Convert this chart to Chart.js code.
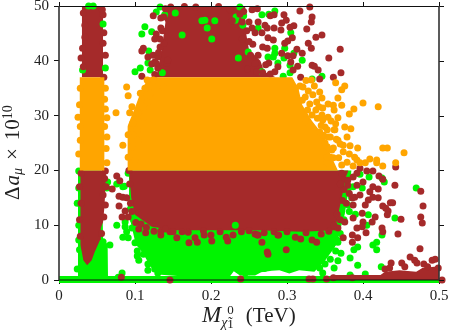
<!DOCTYPE html>
<html>
<head>
<meta charset="utf-8">
<script src="https://cdn.jsdelivr.net/npm/chart.js@4"></script>
<style>
html, body { margin: 0; padding: 0; background: #fff; }
canvas { display: block; }
</style>
</head>
<body>
<canvas id="scan" width="449" height="334"></canvas>
<script>
const xTickLabels = ['0', '0.1', '0.2', '0.3', '0.4', '0.5'];
const yTickLabels = ['0', '10', '20', '30', '40', '50'];

// dense parts of the clouds, read as outlines [x, y]
const greenFloor = [[0, 0.1], [0.5, 0.1]];
const greenStrip = [[0.025, 0], [0.025, 20], [0.056, 20], [0.058, 7.5], [0.064, 6.5], [0.0645, 0]];
const greenCloud = [[0.092, 12], [0.101, 6.5], [0.11, 5], [0.12, 2.5], [0.13, 1], [0.16, 0.7], [0.225, 0.7], [0.23, 1.6], [0.238, 0.8],
    [0.258, 0.8], [0.266, 1.4], [0.28, 1.7], [0.29, 1.8], [0.303, 1.2], [0.316, 1.8], [0.336, 1.5], [0.35, 3.5], [0.363, 6], [0.376, 12], [0.385, 20]];
const brownFloor = [[0.361, 0.9], [0.423, 0.9], [0.429, 1.5], [0.448, 1.8], [0.47, 1.5], [0.478, 2.2], [0.5, 2.5]];
const brownStripTop = [[0.03, 50], [0.058, 50]];
const brownStripLow = [[0.028, 6.4], [0.03, 5.1], [0.032, 3.6], [0.037, 2.7], [0.043, 3.6], [0.047, 5.1], [0.054, 7.3], [0.055, 9.5], [0.058, 10.6], [0.06, 13.7], [0.062, 20]];
const brownBandLow = [[0.092, 20], [0.095, 15], [0.1, 11.9], [0.122, 9.7], [0.153, 9.1], [0.26, 9.1], [0.32, 8.8], [0.363, 9.1], [0.37, 13.7], [0.378, 19], [0.381, 20]];
const brownBandTop = [[0.128, 37], [0.13, 38.3], [0.135, 42], [0.14, 47], [0.136, 50], [0.245, 50], [0.245, 46], [0.25, 42], [0.265, 40], [0.27, 38], [0.285, 37]];
const orangeStrip = [[0.027, 37], [0.06, 37]];
const orangeBand = [[0.09, 20], [0.09, 28], [0.1, 31.5], [0.108, 34.5], [0.118, 37], [0.307, 37], [0.315, 35], [0.32, 32], [0.333, 29], [0.35, 26], [0.357, 23], [0.367, 20]];

// single points
const greenPoints = [[0.026, 19.9], [0.026, 16.8], [0.024, 14], [0.026, 10], [0.026, 7.3], [0.027, 5.5], [0.024, 2], [0.064, 17.9], [0.063, 16.8], [0.076, 17.5], [0.084, 17],
    [0.076, 10], [0.087, 10.6], [0.087, 9.7], [0.089, 8.8], [0.084, 7.8], [0.091, 7.7], [0.096, 9.5], [0.103, 4.4], [0.103, 5.3], [0.111, 4.7], [0.117, 2.9], [0.117, 1.8],
    [0.128, 3.3], [0.126, 2], [0.083, 1.3], [0.078, 0.5], [0.091, 19.5], [0.086, 17.1], [0.1, 6.8], [0.109, 6.8], [0.146, 3.3], [0.137, 2.7], [0.149, 2.2], [0.113, 6.4], [0.122, 5.1],
    [0.067, 6.4], [0.058, 7], [0.424, 2.4], [0.393, 2.7], [0.383, 4], [0.367, 3.5], [0.362, 2.2], [0.35, 2.9], [0.357, 3.8], [0.413, 6.4], [0.418, 6.9], [0.418, 5.5], [0.393, 6], [0.388, 5.5],
    [0.371, 4.9], [0.364, 5.3], [0.442, 11.3], [0.47, 16.8], [0.425, 8.2], [0.407, 11.9], [0.405, 10], [0.428, 17.9], [0.425, 18.6], [0.408, 18.8], [0.396, 19.3], [0.399, 16.8], [0.38, 16.4],
    [0.38, 13.7], [0.367, 6.9], [0.343, 2.2], [0.347, 1.3], [0.383, 0.9], [0.403, 1.1], [0.366, 7.3], [0.361, 6.8], [0.155, 1.6], [0.165, 1.3], [0.245, 1.3], [0.25, 1.5], [0.27, 2.1], [0.29, 2.5],
    [0.31, 2.3], [0.325, 2.6], [0.34, 2.9], [0.35, 4.8], [0.358, 6.2], [0.37, 8.5], [0.375, 11], [0.382, 12.5], [0.385, 15], [0.39, 12], [0.387, 17], [0.105, 3.6], [0.115, 5.5], [0.13, 1.3], [0.142, 4.5], [0.098, 11], [0.094, 13]];
const greenOverBrown = [[0.284, 49.1], [0.276, 48.5], [0.267, 48.4], [0.238, 49.8], [0.233, 48], [0.243, 48.2], [0.262, 46], [0.284, 42.3], [0.284, 41.4], [0.32, 40.1], [0.309, 41.4], [0.305, 45.1],
    [0.297, 42.3], [0.296, 40.5], [0.304, 39.2], [0.288, 39.6], [0.304, 37.8], [0.295, 37.2], [0.346, 37.2], [0.333, 36.7], [0.282, 40.7], [0.275, 40.7], [0.267, 38], [0.236, 40.5], [0.249, 41.6], [0.242, 46.5],
    [0.128, 48.9], [0.113, 46.2], [0.109, 44.9], [0.122, 45.3], [0.118, 41.8], [0.117, 39.6], [0.107, 38.7], [0.1, 38], [0.12, 38.3], [0.136, 37.8], [0.133, 49.8], [0.139, 48.4],
    [0.192, 47.4], [0.188, 47.3], [0.153, 48.7], [0.195, 46], [0.201, 44], [0.232, 47.4], [0.205, 47.3], [0.162, 44.7], [0.232, 10], [0.058, 46.7], [0.061, 38.7], [0.039, 50], [0.045, 50], [0.031, 38.3]];
const brownPoints = [[0.317, 49.1], [0.33, 49.8], [0.333, 48], [0.332, 47.1], [0.326, 45.8], [0.338, 44.3], [0.346, 44.7], [0.328, 43.2], [0.332, 42.3], [0.37, 42.1], [0.355, 40.5], [0.333, 39.2], [0.336, 39], [0.341, 38.3],
    [0.371, 37.8], [0.361, 37], [0.343, 36.7], [0.318, 37], [0.296, 48.4], [0.299, 47.4], [0.293, 46.9], [0.292, 45.6], [0.309, 46.4], [0.304, 46.1], [0.283, 46], [0.271, 46.5], [0.274, 46], [0.262, 47.1],
    [0.267, 45.1], [0.258, 45.1], [0.275, 44.2], [0.282, 43.8], [0.307, 44.2], [0.301, 43.6], [0.297, 43.2], [0.313, 42.1], [0.32, 41.4], [0.293, 41.4], [0.301, 40.9], [0.308, 40.9], [0.305, 39.8], [0.314, 39],
    [0.308, 38.3], [0.288, 38.9], [0.276, 39.6], [0.284, 38], [0.274, 42.3], [0.254, 46], [0.25, 47.1], [0.241, 47.1], [0.228, 47.3], [0.238, 48.5], [0.225, 49.3], [0.254, 49.3], [0.261, 49.5], [0.278, 48.2], [0.283, 48.4],
    [0.124, 48.2], [0.134, 47.8], [0.134, 46], [0.128, 44.9], [0.126, 44], [0.111, 42.3], [0.109, 41.8], [0.117, 40.7], [0.124, 41], [0.126, 39.8], [0.13, 40.7], [0.109, 37.2], [0.133, 42.5], [0.138, 43.2], [0.13, 38.7],
    [0.142, 39.6], [0.143, 40.1], [0.122, 39.4], [0.032, 48.7], [0.031, 42.3], [0.059, 45.1], [0.058, 48.4], [0.059, 37], [0.061, 41], [0.034, 46.5], [0.032, 38.9], [0.057, 49.3], [0.034, 44.3], [0.058, 43.2], [0.029, 40.5],
    [0.076, 19], [0.08, 18.1], [0.07, 16.6], [0.079, 15.3], [0.084, 15.1], [0.089, 15], [0.079, 13.5], [0.087, 12.6], [0.083, 11.5], [0.091, 11.5], [0.082, 0.5], [0.146, 0], [0.114, 8.6], [0.134, 8.2], [0.146, 8.8], [0.155, 7.7],
    [0.105, 9.3], [0.061, 19.9], [0.092, 20], [0.134, 8.9], [0.061, 13.7], [0.059, 11.5], [0.062, 17], [0.443, 20.6], [0.442, 17.3], [0.476, 16.2], [0.479, 13.5], [0.476, 11.5], [0.478, 10.4], [0.446, 8.4], [0.475, 5.7], [0.45, 11.1],
    [0.436, 14.1], [0.439, 14.1], [0.426, 13.5], [0.43, 13.1], [0.433, 12.6], [0.432, 11.9], [0.425, 9.5], [0.426, 8.8], [0.42, 16.6], [0.413, 17], [0.409, 16.1], [0.413, 15.1], [0.42, 15], [0.407, 14.6], [0.403, 13.7], [0.396, 15.5],
    [0.389, 15.1], [0.386, 15], [0.387, 13.7], [0.399, 12.2], [0.387, 11.3], [0.416, 11.5], [0.412, 10.6], [0.4, 10.6], [0.399, 9.7], [0.392, 9.5], [0.404, 8.6], [0.393, 7.7], [0.386, 8.2], [0.386, 6.9], [0.374, 7.7], [0.367, 9.5], [0.376, 10.6],
    [0.421, 19], [0.413, 19.9], [0.405, 19.9], [0.396, 20.4], [0.426, 18.4], [0.4, 17.9], [0.392, 17.3], [0.38, 17.3], [0.387, 18.8], [0.392, 19.5], [0.38, 18.2], [0.462, 4.2], [0.468, 3.6], [0.471, 3.1], [0.48, 2.9], [0.491, 3.6], [0.495, 3.8],
    [0.437, 3.1], [0.451, 3.1], [0.455, 2.4], [0.429, 2], [0.435, 2.2], [0.485, 2.4], [0.499, 2.2], [0.504, 0], [0.352, 0.2], [0.334, 0.2], [0.361, 0.4], [0.386, 0.4], [0.171, 6.8], [0.179, 7.7], [0.182, 6.9], [0.191, 8.2], [0.2, 8.2], [0.201, 7.1],
    [0.212, 8.8], [0.22, 7.8], [0.222, 7.1], [0.229, 8.2], [0.261, 8.2], [0.267, 6.9], [0.274, 5.1], [0.275, 4.7], [0.299, 5.5], [0.283, 8.8], [0.289, 8.2], [0.311, 7.8], [0.318, 7.5], [0.333, 7.3], [0.339, 6.9], [0.239, 0.2], [0.329, 0.2], [0.162, 8.8],
    [0.258, 8.4], [0.262, 8.2], [0.288, 8.2],
    // rough edges of the dense areas
    [0.126, 37.5], [0.128, 39.5], [0.131, 41.5], [0.133, 44], [0.136, 45.5], [0.138, 48], [0.14, 49.5], [0.147, 49.8], [0.165, 49.9], [0.18, 49.8], [0.21, 49.9], [0.243, 49], [0.247, 45.5], [0.25, 43.5], [0.252, 41], [0.258, 39.5], [0.262, 41],
    [0.268, 37.8], [0.272, 39.3], [0.278, 37.6], [0.248, 38.5], [0.255, 43], [0.26, 38], [0.268, 42.5], [0.241, 44], [0.093, 17.5], [0.094, 14], [0.096, 12.5], [0.101, 10.5], [0.108, 10.2], [0.115, 9.6], [0.125, 8.9], [0.14, 9.3], [0.15, 8.8], [0.17, 8.7],
    [0.19, 9], [0.24, 8.8], [0.25, 9], [0.27, 8.6], [0.3, 8.8], [0.325, 8.6], [0.345, 8.4], [0.355, 8.9], [0.362, 10], [0.366, 12], [0.37, 11], [0.373, 14.5], [0.375, 16.5], [0.378, 14], [0.37, 17.5], [0.382, 15.8], [0.372, 19.5],
    [0.028, 8], [0.027, 11], [0.029, 14], [0.027, 17], [0.029, 19.5], [0.056, 8.5], [0.058, 15.5], [0.06, 18.5]];
const orangePoints = [[0.364, 36], [0.376, 35.4], [0.372, 34.7], [0.343, 34.3], [0.367, 33.2], [0.346, 33.2], [0.339, 32.5], [0.354, 32.1], [0.361, 31.9], [0.372, 31.9], [0.4, 32.3], [0.42, 31.6], [0.347, 31.4], [0.362, 31], [0.388, 31.2], [0.382, 30.3],
    [0.354, 29.7], [0.367, 29.6], [0.364, 28.5], [0.376, 27.9], [0.384, 27.6], [0.379, 26.1], [0.362, 27.4], [0.357, 26.1], [0.374, 24.6], [0.383, 24.5], [0.393, 24.1], [0.426, 24.1], [0.432, 24.1], [0.454, 23.2], [0.382, 23], [0.389, 22.4], [0.409, 22.1],
    [0.418, 21.9], [0.418, 21.4], [0.396, 21.4], [0.403, 21.4], [0.426, 20.8], [0.443, 21.4], [0.387, 20.8], [0.374, 23.4], [0.367, 25.5], [0.361, 24.1], [0.368, 22.3], [0.379, 21.5], [0.361, 22.3], [0.353, 24.3], [0.353, 27.4], [0.347, 29.2], [0.338, 31],
    [0.357, 22.4], [0.353, 21.4], [0.372, 21], [0.392, 21.9], [0.332, 36.5], [0.336, 35.4], [0.317, 35.4], [0.321, 35.2], [0.311, 35], [0.334, 33.8], [0.324, 33.4], [0.33, 32.1], [0.32, 32.8], [0.346, 30.1], [0.333, 30.1], [0.324, 29.2], [0.35, 27.9], [0.343, 27],
    [0.354, 26.1], [0.35, 25], [0.359, 23.7], [0.353, 22.4], [0.363, 27.4], [0.328, 27.9], [0.089, 35.2], [0.091, 33.6], [0.075, 30.5], [0.084, 24.6], [0.096, 31.6], [0.093, 30.5], [0.104, 30.5], [0.107, 34.1], [0.113, 35], [0.124, 36.5], [0.116, 36.5], [0.137, 35.2],
    [0.111, 31.6], [0.097, 28.6], [0.091, 26.5], [0.103, 27.4], [0.096, 24.3], [0.111, 29.7], [0.091, 22.4], [0.104, 25.5], [0.1, 21.9], [0.116, 32.5], [0.12, 34.1], [0.061, 31.2], [0.063, 29.6], [0.025, 29.7], [0.063, 26.1], [0.063, 21.4], [0.028, 25.5],
    [0.028, 35], [0.027, 32], [0.028, 28], [0.026, 23], [0.061, 35], [0.06, 33], [0.062, 24], [0.06, 28], [0.325, 36.4], [0.328, 34.5], [0.34, 29.5], [0.345, 28.2], [0.358, 29], [0.342, 31.6], [0.327, 31], [0.348, 26.4], [0.365, 25.7], [0.37, 24.8]];

// axis titles, split up because of the sub and superscripts
const xTitleParts = [
    { text: 'M', font: 'italic 23px "Liberation Serif"', dy: 0 },
    { text: 'χ̃', font: 'italic 14px "Liberation Serif"', dy: 5 },
    { text: '0', font: '13px "Liberation Serif"', dy: -8 },
    { text: '1', font: '13px "Liberation Serif"', dy: 6, back: 6.5 },
    { text: '(TeV)', font: '21px "Liberation Serif"', dy: 0, gap: 12 }
];
const yTitleParts = [
    { text: 'Δ', font: '21px "Liberation Serif"', dy: 0 },
    { text: 'a', font: 'italic 21px "Liberation Serif"', dy: 0, gap: 1 },
    { text: 'μ', font: 'italic 14px "Liberation Serif"', dy: 3 },
    { text: '×', font: '21px "Liberation Serif"', dy: 0, gap: 8 },
    { text: '10', font: '21px "Liberation Serif"', dy: 0, gap: 8 },
    { text: '10', font: '14px "Liberation Serif"', dy: -7 }
];

const GREEN = '#00f400';
const BROWN = '#a52a2a';
const ORANGE = '#ffa500';

function toXY(list) {
    return list.map(p => ({ x: p[0], y: p[1] }));
}

// outline of a dense area, filled down/up to a fixed value
function area(list, color, fillTo, order) {
    return {
        data: toXY(list),
        showLine: true,
        borderWidth: 0,
        borderColor: color,
        backgroundColor: color,
        pointRadius: 0,
        tension: 0,
        fill: { value: fillTo, above: color, below: color },
        order: order
    };
}

function dots(list, color, order) {
    return {
        data: toXY(list),
        backgroundColor: color,
        borderWidth: 0,
        pointRadius: 3.5,
        clip: false,
        order: order
    };
}

function drawTitle(ctx, parts) {
    let pos = 0;
    parts.forEach(p => {
        ctx.font = p.font;
        pos += (p.gap || 0) - (p.back || 0);
        ctx.fillText(p.text, pos, p.dy);
        pos += ctx.measureText(p.text).width;
    });
}

const framePlugin = {
    id: 'frame',
    afterDatasetsDraw(chart) {
        const { ctx, chartArea: a, scales } = chart;
        ctx.save();
        ctx.strokeStyle = '#111';
        ctx.lineWidth = 1;
        ctx.beginPath();
        ctx.moveTo(a.left, a.top + 0.5);
        ctx.lineTo(a.right, a.top + 0.5);
        ctx.moveTo(a.left, a.bottom);
        ctx.lineTo(a.right, a.bottom);
        // mirrored ticks on top and right
        scales.x.ticks.forEach((t, i) => {
            const px = Math.round(scales.x.getPixelForTick(i)) + 0.5;
            ctx.moveTo(px, a.top);
            ctx.lineTo(px, a.top - 4);
        });
        scales.y.ticks.forEach((t, i) => {
            const py = Math.round(scales.y.getPixelForTick(i)) + 0.5;
            ctx.moveTo(a.right, py);
            ctx.lineTo(a.right + 5, py);
        });
        ctx.stroke();
        ctx.strokeStyle = '#333';
        ctx.lineWidth = 1.6;
        ctx.beginPath();
        ctx.moveTo(a.left, a.top);
        ctx.lineTo(a.left, a.bottom);
        ctx.moveTo(a.right, a.top);
        ctx.lineTo(a.right, a.bottom);
        ctx.stroke();

        ctx.fillStyle = '#222';
        ctx.textBaseline = 'alphabetic';
        ctx.textAlign = 'left';
        ctx.save();
        ctx.translate(202, 322);
        drawTitle(ctx, xTitleParts);
        ctx.restore();
        ctx.save();
        ctx.translate(19, 200);
        ctx.rotate(-Math.PI / 2);
        drawTitle(ctx, yTitleParts);
        ctx.restore();
        ctx.restore();
    }
};

const floorSet = area(greenFloor, GREEN, 0, 10);
floorSet.borderWidth = 7;
floorSet.fill = false;
floorSet.clip = false;

new Chart(document.getElementById('scan').getContext('2d'), {
    type: 'scatter',
    data: {
        datasets: [
            floorSet,
            area(greenStrip, GREEN, 0, 9),
            area(greenCloud, GREEN, 20, 9),
            dots(greenPoints, GREEN, 8),
            area(brownFloor, BROWN, -0.3, 7),
            area(brownStripTop, BROWN, 37, 7),
            area(brownStripLow, BROWN, 20, 7),
            area(brownBandLow, BROWN, 20, 7),
            area(brownBandTop, BROWN, 37, 7),
            dots(greenOverBrown, GREEN, 6),
            dots(brownPoints, BROWN, 5),
            area(orangeStrip, ORANGE, 20, 4),
            area(orangeBand, ORANGE, 20, 4),
            dots(orangePoints, ORANGE, 3)
        ]
    },
    options: {
        responsive: false,
        animation: false,
        layout: { autoPadding: false, padding: { top: 6, right: 10, left: 0, bottom: 0 } },
        plugins: { legend: { display: false }, tooltip: { enabled: false } },
        scales: {
            x: {
                type: 'linear',
                min: 0,
                max: 0.5,
                afterFit: s => { s.height = 54; s.paddingLeft = 0; s.paddingRight = 0; },
                grid: { drawOnChartArea: false, tickLength: 4, color: '#111' },
                border: { display: false },
                ticks: {
                    stepSize: 0.1,
                    maxRotation: 0,
                    padding: 3,
                    color: '#222',
                    font: { family: '"Liberation Serif"', size: 15 },
                    callback: (v, i) => xTickLabels[i]
                }
            },
            y: {
                min: 0,
                max: 50,
                afterFit: s => { s.width = 59; s.paddingTop = 0; s.paddingBottom = 0; },
                grid: { drawOnChartArea: false, tickLength: 5, color: '#111' },
                border: { display: false },
                ticks: {
                    stepSize: 10,
                    padding: 5,
                    color: '#222',
                    font: { family: '"Liberation Serif"', size: 15 },
                    callback: (v, i) => yTickLabels[i]
                }
            }
        }
    },
    plugins: [framePlugin]
});
</script>
</body>
</html>
